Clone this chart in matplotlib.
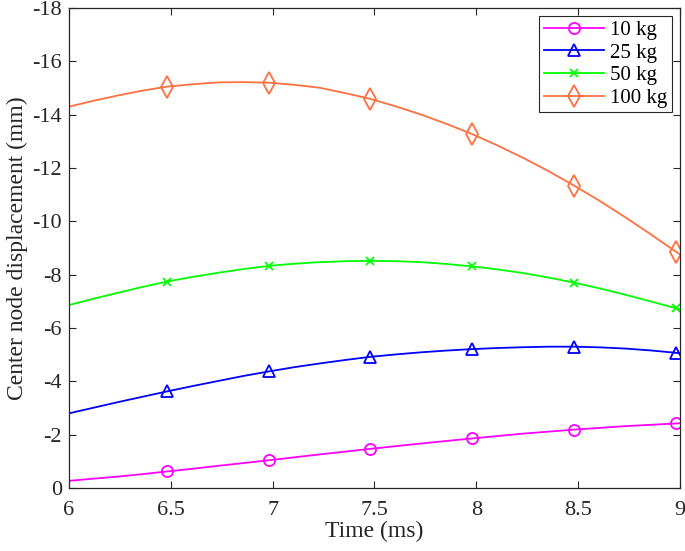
import matplotlib
matplotlib.use("Agg")
import matplotlib.pyplot as plt

plt.rcParams['font.family'] = ['Liberation Serif', 'DejaVu Serif']
plt.rcParams['axes.unicode_minus'] = False

time_ms = [6.0, 6.12, 6.24, 6.36, 6.48, 6.605, 6.73, 6.855, 6.98, 7.105, 7.23, 7.355, 7.48,
           7.605, 7.73, 7.855, 7.98, 8.105, 8.23, 8.355, 8.48, 8.605, 8.73, 8.855, 8.98, 9.0]
disp_10kg = [-0.27, -0.35, -0.43, -0.52, -0.62, -0.72, -0.83, -0.935, -1.04, -1.15, -1.26, -1.365, -1.47,
             -1.57, -1.67, -1.765, -1.86, -1.95, -2.04, -2.115, -2.19, -2.255, -2.32, -2.37, -2.42, -2.43]
disp_25kg = [-2.80, -3.01, -3.22, -3.42, -3.62, -3.82, -4.01, -4.20, -4.37, -4.53, -4.67, -4.80, -4.92,
             -5.01, -5.09, -5.155, -5.21, -5.25, -5.28, -5.30, -5.30, -5.275, -5.23, -5.16, -5.07, -5.05]
disp_50kg = [-6.86, -7.10, -7.32, -7.54, -7.74, -7.915, -8.07, -8.21, -8.33, -8.41, -8.47, -8.505, -8.52,
             -8.505, -8.47, -8.40, -8.31, -8.195, -8.06, -7.89, -7.70, -7.485, -7.25, -7.00, -6.74, -6.70]
disp_100kg = [-14.30, -14.52, -14.72, -14.90, -15.05, -15.14, -15.21, -15.22, -15.20, -15.12, -15.01, -14.81, -14.59,
              -14.31, -14.00, -13.65, -13.27, -12.84, -12.38, -11.88, -11.34, -10.77, -10.16, -9.52, -8.86, -8.76]
marker_idx = [4, 8, 12, 16, 20, 24]

labels = ['10 kg', '25 kg', '50 kg', '100 kg']
colors = ['#FF00FF', '#0000FF', '#00FF00', '#FF7040']
markers = ['o', '^', 'x', 'd']
marker_sizes = [8, 9, 6, 11]
series = [disp_10kg, disp_25kg, disp_50kg, disp_100kg]

xticks = [6, 6.5, 7, 7.5, 8, 8.5, 9]
xticklabels = ['6', '6.5', '7', '7.5', '8', '8.5', '9']
yticks = [0, -2, -4, -6, -8, -10, -12, -14, -16, -18]
yticklabels = ['0', '-2', '-4', '-6', '-8', '-10', '-12', '-14', '-16', '-18']

fig = plt.figure(figsize=(6.85, 5.51), dpi=100)
ax = fig.add_axes([0.1007, 0.1143, 0.8920, 0.8712])

for vals, lab, col, mk, ms in zip(series, labels, colors, markers, marker_sizes):
    ax.plot(time_ms, vals, color=col, lw=1.3, marker=mk, markevery=marker_idx,
            markersize=ms, markerfacecolor='none', markeredgecolor=col,
            markeredgewidth=1.3, label=lab)

ax.set_xlim(6, 9)
ax.set_ylim(0, -18)
ax.set_xticks(xticks)
ax.set_xticklabels(xticklabels)
ax.set_yticks(yticks)
ax.set_yticklabels(yticklabels)
ax.tick_params(direction='in', top=True, right=True, length=5, width=0.8,
               labelsize=16, colors='#262626')
ax.tick_params(axis='x', pad=9)
ax.tick_params(axis='y', pad=5)
for s in ax.spines.values():
    s.set_color('#262626')
    s.set_linewidth(0.9)

ax.set_xlabel('Time (ms)', fontsize=17, color='#262626', labelpad=1)
ax.set_ylabel('Center node displacement (mm)', fontsize=17, color='#262626', labelpad=3)

leg = ax.legend(loc='upper right', fontsize=15, frameon=True, fancybox=False,
                edgecolor='#262626', framealpha=1, handlelength=2.9,
                borderaxespad=0.4, borderpad=0.2, labelspacing=0.15,
                handletextpad=0.3)
leg.get_frame().set_linewidth(0.8)

fig.savefig('out.png', dpi=100)
